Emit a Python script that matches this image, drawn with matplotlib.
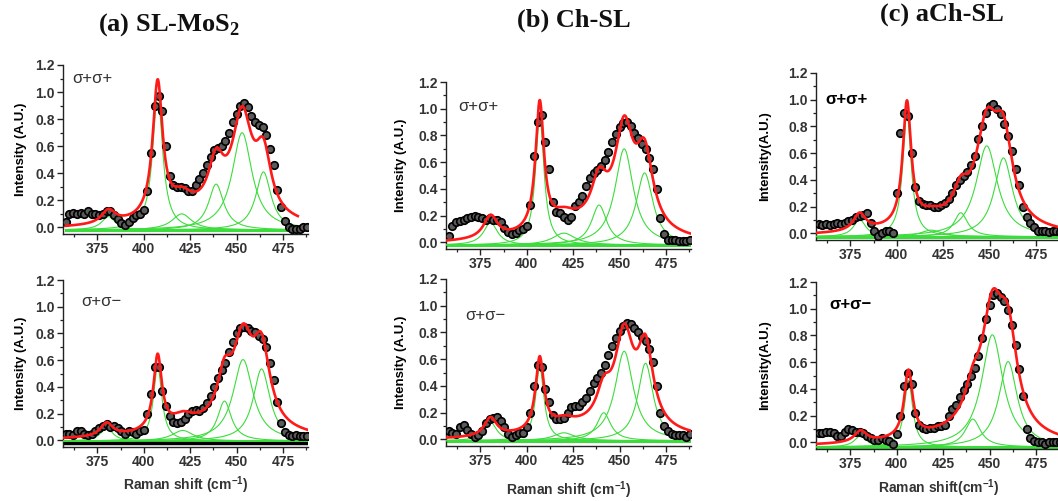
import numpy as np
import matplotlib
matplotlib.use("Agg")
import matplotlib.pyplot as plt
from matplotlib.ticker import MultipleLocator, FormatStrFormatter

plt.rcParams['font.family'] = ['Liberation Sans', 'DejaVu Sans']
plt.rcParams['mathtext.fontset'] = 'custom'
plt.rcParams['mathtext.rm'] = 'Liberation Serif:bold'
plt.rcParams['mathtext.bf'] = 'Liberation Sans:bold'

# ---------------- data ----------------
shift = np.arange(358, 489, 2)  # Raman shift of the measured points (cm^-1)

a_pp = [0.04, 0.10, 0.11, 0.10, 0.11, 0.10, 0.12, 0.10, 0.10, 0.09,
        0.10, 0.12, 0.12, 0.09, 0.06, 0.03, 0.02, 0.04, 0.07, 0.09,
        0.10, 0.13, 0.27, 0.55, 0.90, 0.97, 0.86, 0.60, 0.38, 0.31,
        0.30, 0.30, 0.29, 0.27, 0.27, 0.31, 0.36, 0.40, 0.46, 0.52,
        0.57, 0.59, 0.60, 0.64, 0.70, 0.78, 0.84, 0.90, 0.92, 0.89,
        0.82, 0.78, 0.76, 0.74, 0.68, 0.58, 0.46, 0.28, 0.15, 0.05,
        0.00, -0.01, -0.01, -0.01, 0.00, 0.00]
a_pm = [0.05, 0.05, 0.04, 0.07, 0.07, 0.05, 0.04, 0.05, 0.07, 0.09,
        0.11, 0.12, 0.10, 0.11, 0.09, 0.07, 0.05, 0.07, 0.06, 0.05,
        0.07, 0.08, 0.20, 0.35, 0.55, 0.55, 0.37, 0.26, 0.18, 0.14,
        0.13, 0.14, 0.16, 0.20, 0.22, 0.23, 0.22, 0.24, 0.28, 0.33,
        0.40, 0.47, 0.53, 0.58, 0.66, 0.74, 0.80, 0.84, 0.85, 0.84,
        0.82, 0.81, 0.78, 0.76, 0.70, 0.58, 0.45, 0.29, 0.13, 0.06,
        0.04, 0.03, 0.04, 0.03, 0.03, 0.03]
b_pp = [0.05, 0.12, 0.15, 0.16, 0.17, 0.18, 0.19, 0.20, 0.19, 0.18,
        0.17, 0.18, 0.17, 0.17, 0.15, 0.11, 0.08, 0.06, 0.07, 0.09,
        0.10, 0.12, 0.28, 0.65, 0.90, 0.95, 0.75, 0.55, 0.30, 0.23,
        0.22, 0.19, 0.17, 0.19, 0.27, 0.30, 0.35, 0.42, 0.48, 0.52,
        0.54, 0.57, 0.62, 0.68, 0.75, 0.81, 0.86, 0.89, 0.90, 0.87,
        0.82, 0.78, 0.74, 0.70, 0.63, 0.55, 0.40, 0.18, 0.06, 0.02,
        0.02, 0.02, 0.01, 0.01, 0.01, 0.02]
b_pm = [0.06, 0.05, 0.04, 0.09, 0.11, 0.07, 0.04, 0.02, 0.03, 0.06,
        0.12, 0.15, 0.16, 0.17, 0.14, 0.09, 0.04, 0.02, 0.03, 0.05,
        0.05, 0.09, 0.20, 0.40, 0.56, 0.54, 0.38, 0.28, 0.18, 0.15,
        0.15, 0.16, 0.20, 0.24, 0.25, 0.25, 0.28, 0.31, 0.36, 0.42,
        0.46, 0.50, 0.56, 0.63, 0.70, 0.76, 0.81, 0.85, 0.87, 0.86,
        0.83, 0.80, 0.77, 0.74, 0.68, 0.58, 0.40, 0.20, 0.10, 0.06,
        0.04, 0.03, 0.03, 0.03, 0.02, 0.04]
c_pp = [0.07, 0.06, 0.07, 0.06, 0.07, 0.08, 0.07, 0.08, 0.09, 0.10,
        0.12, 0.13, 0.14, 0.15, 0.08, 0.02, -0.02, 0.00, 0.02, 0.02,
        0.00, 0.30, 0.75, 0.90, 0.88, 0.60, 0.35, 0.24, 0.22, 0.21,
        0.21, 0.20, 0.20, 0.21, 0.23, 0.26, 0.30, 0.36, 0.40, 0.43,
        0.46, 0.51, 0.58, 0.71, 0.80, 0.90, 0.95, 0.97, 0.93, 0.89,
        0.82, 0.73, 0.62, 0.48, 0.36, 0.20, 0.12, 0.08, 0.05, 0.02,
        0.02, 0.02, 0.01, 0.02, 0.02, 0.01]
c_pm = [0.07, 0.07, 0.08, 0.08, 0.07, 0.05, 0.05, 0.08, 0.10, 0.09,
        0.08, 0.08, 0.07, 0.05, 0.03, 0.02, 0.02, 0.03, 0.02, 0.01,
        -0.01, 0.06, 0.20, 0.42, 0.52, 0.44, 0.22, 0.13, 0.11, 0.10,
        0.11, 0.11, 0.12, 0.12, 0.13, 0.20, 0.25, 0.28, 0.34, 0.39,
        0.44, 0.50, 0.56, 0.65, 0.78, 0.92, 1.03, 1.10, 1.12, 1.09,
        1.06, 0.99, 0.88, 0.73, 0.55, 0.35, 0.10, 0.03, 0.01, 0.00,
        0.00, -0.01, 0.00, 0.00, 0.00, 0.00]

# fitted Lorentzian components: (centre, height, FWHM)
peaks_a_pp = [(381, 0.10, 9), (407.5, 1.00, 6.5), (420.5, 0.12, 13),
              (439, 0.34, 10), (453, 0.72, 13), (464.5, 0.43, 10)]
peaks_a_pm = [(380, 0.10, 8), (407.5, 0.56, 5.5), (421, 0.08, 14),
              (443.5, 0.30, 9), (453.5, 0.61, 13), (463.5, 0.54, 11)]
peaks_b_pp = [(380.5, 0.17, 9), (407, 0.96, 5.5), (420, 0.09, 15),
              (439, 0.30, 10), (452.5, 0.72, 12), (463.5, 0.54, 11)]
peaks_b_pm = [(380.5, 0.14, 8), (407, 0.55, 5.5), (420, 0.06, 14),
              (441.5, 0.21, 9), (452.5, 0.67, 12), (464, 0.58, 10)]
peaks_c_pp = [(380, 0.13, 8), (405.5, 0.92, 5.5), (418.5, 0.05, 14),
              (434.5, 0.18, 9), (448.5, 0.68, 14), (457.5, 0.59, 12)]
peaks_c_pm = [(380.5, 0.085, 8), (406.3, 0.50, 5.5), (441, 0.21, 10),
              (451.5, 0.84, 14), (460, 0.64, 12)]
# broad background term of each fit: (centre, height, FWHM)
bg = [(435, 0.10, 70), (440, 0.10, 70), (435, 0.12, 70),
      (440, 0.09, 70), (432, 0.09, 70), (440, 0.09, 70)]
baselines = [-0.02, -0.005, -0.02, -0.01, -0.025, -0.035]
fit_ranges = [(358, 483), (357, 489), (357, 489), (357, 489), (357, 489), (357, 489)]

titles = [r"(a) SL-MoS$_\mathrm{2}$", "(b) Ch-SL", "(c) aCh-SL"]
pol_labels = ["\u03c3+\u03c3+", "\u03c3+\u03c3\u2212"]
ylabels = ["Intensity (A.U.)", "Intensity (A.U.)", "Intensity(A.U.)"]
xlabels = [r"Raman shift (cm$^{\mathbf{-1}}$)", r"Raman shift (cm$^{\mathbf{-1}}$)",
           r"Raman shift(cm$^{\mathbf{-1}}$)"]
xticks = [375, 400, 425, 450, 475]
yticks = [0.0, 0.2, 0.4, 0.6, 0.8, 1.0, 1.2]

# ---------------- figure ----------------
W, H = 1058, 501
fig = plt.figure(figsize=(W / 100, H / 100), dpi=100)

def px_axes(left, right, top, bottom):
    return fig.add_axes([left / W, 1 - bottom / H, (right - left) / W, (bottom - top) / H])

# (left, right, top(=1.2), bottom(=ymin)) in pixels
boxes = [(63, 308, 65, 233.5), (63, 308, 280, 446.5),
         (446, 691, 82, 248.5), (446, 691, 279, 445.5),
         (816, 1061, 73, 239.5), (816, 1061, 282, 448.5)]
spectra = [a_pp, a_pm, b_pp, b_pm, c_pp, c_pm]
peak_sets = [peaks_a_pp, peaks_a_pm, peaks_b_pp, peaks_b_pm, peaks_c_pp, peaks_c_pm]
label_pos = [(361.5, 1.10), (366.5, 1.04), (363, 1.02), (367, 0.93), (361.5, 1.0), (363.5, 1.03)]
ylabel_pads = [6, 8, 12]
xlabel_pads = [4, 8, 5]

GREEN = '#3ddc3d'
RED = '#ff1a1a'
GREY = '#333333'

def lorentz(x, c, h, w):
    return h / (1.0 + ((x - c) / (w / 2.0)) ** 2)

for i in range(6):
    ax = px_axes(*boxes[i])
    lo, hi = fit_ranges[i]
    xf = np.linspace(lo, hi, 800)
    base = baselines[i]
    ax.plot([lo, hi], [base, base], color=GREEN, lw=2.2, zorder=2)
    if i == 1:
        ax.plot([355, 490], [-0.018, -0.018], color='black', lw=2.5, zorder=2)
    total = np.full_like(xf, base)
    for (c, h, w) in peak_sets[i]:
        comp = lorentz(xf, c, h, w)
        total += comp
        ax.plot(xf, base + comp, color=GREEN, lw=0.8, zorder=3)
    total += lorentz(xf, *bg[i])
    ax.plot(shift, spectra[i], 'o', ms=5.4, mfc='#5a5a5a', mec='black', mew=1.2, zorder=4)
    ax.plot(xf, total, color=RED, lw=1.9, zorder=5)

    ax.set_xlim(356.5, 488.5)
    ax.set_ylim(-0.045, 1.2)
    for s in ['top', 'right']:
        ax.spines[s].set_visible(False)
    for s in ['left', 'bottom']:
        ax.spines[s].set_color('#222222')
        ax.spines[s].set_linewidth(1.0)
    ax.set_xticks(xticks)
    ax.set_yticks(yticks)
    ax.xaxis.set_minor_locator(MultipleLocator(12.5))
    ax.yaxis.set_minor_locator(MultipleLocator(0.1))
    ax.yaxis.set_major_formatter(FormatStrFormatter('%.1f'))
    ax.tick_params(which='major', direction='out', length=4, width=1, color='#222222',
                   labelsize=10, labelcolor=GREY, pad=2)
    ax.tick_params(which='minor', direction='out', length=2.2, width=0.9, color='#222222')
    for lab in ax.get_xticklabels() + ax.get_yticklabels():
        lab.set_fontweight('bold')
    col = i // 2
    ax.set_ylabel(ylabels[col], fontsize=9.5, fontweight='bold', color='black',
                  labelpad=ylabel_pads[col])
    if i % 2 == 1:
        ax.set_xlabel(xlabels[col], fontsize=10, fontweight='bold', color=GREY,
                      labelpad=xlabel_pads[col])
    lx, ly = label_pos[i]
    ax.text(lx, ly, pol_labels[i % 2], fontsize=12, color=GREY if col < 2 else 'black',
            fontweight='bold' if col == 2 else 'normal', va='center', ha='left')

title_pos = [(169, 25), (574, 20), (942, 14)]
for (tx, ty), t in zip(title_pos, titles):
    fig.text(tx / W, 1 - ty / H, t, fontsize=19, fontweight='bold',
             family='Liberation Serif', ha='center', va='center', color='#111111')

fig.savefig('out.png', dpi=100)
